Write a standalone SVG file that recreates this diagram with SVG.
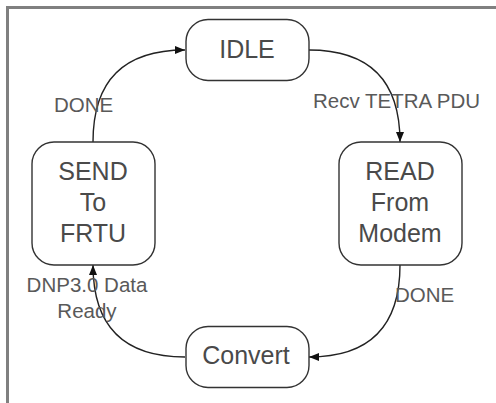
<svg xmlns="http://www.w3.org/2000/svg" width="496" height="403" viewBox="0 0 496 403">
  <style>
    .node rect { fill: #fff; stroke: #333; stroke-width: 1.4; }
    .node text { font-family: "Liberation Sans", Arial, sans-serif; font-size: 25px; fill: #4a4a4a; text-anchor: middle; }
    .edge { fill: none; stroke: #222; stroke-width: 1.4; marker-end: url(#arrow); }
    .label { font-family: "Liberation Sans", Arial, sans-serif; font-size: 20.5px; fill: #595959; }
  </style>
  <defs>
    <marker id="arrow" markerUnits="userSpaceOnUse" markerWidth="11" markerHeight="9" refX="10" refY="4" orient="auto">
      <path d="M0,0 L10,4 L0,8 Z" fill="#111"/>
    </marker>
  </defs>

  <!-- page background and frame -->
  <rect x="0" y="0" width="496" height="403" fill="#fff"/>
  <rect x="7.5" y="7.5" width="600" height="600" fill="none" stroke="#808080" stroke-width="3"/>

  <!-- transitions -->
  <g id="connectors">
    <path class="edge" d="M93,142 Q93,50 185,50"/>
    <path class="edge" d="M309,50 Q400,50 400,142"/>
    <path class="edge" d="M400,265 Q400,357 309,357"/>
    <path class="edge" d="M185,357 Q93,357 93,265"/>
  </g>

  <!-- transition labels -->
  <g id="labels">
    <text class="label" x="54" y="112">DONE</text>
    <text class="label" x="313" y="108">Recv TETRA PDU</text>
    <text class="label" x="395" y="302">DONE</text>
    <text class="label" x="87" y="292" text-anchor="middle">DNP3.0 Data</text>
    <text class="label" x="87" y="318" text-anchor="middle">Ready</text>
  </g>

  <!-- states -->
  <g id="idle" class="node">
    <rect x="186" y="19.5" width="123" height="61" rx="22" ry="22"/>
    <text x="247" y="57.5">IDLE</text>
  </g>
  <g id="read" class="node">
    <rect x="339" y="142" width="123" height="123" rx="22" ry="22"/>
    <text x="400" y="180">READ</text>
    <text x="400" y="211">From</text>
    <text x="400" y="242">Modem</text>
  </g>
  <g id="convert" class="node">
    <rect x="186" y="326.5" width="123" height="61" rx="22" ry="22"/>
    <text x="246" y="364">Convert</text>
  </g>
  <g id="send" class="node">
    <rect x="32" y="142" width="123" height="123" rx="22" ry="22"/>
    <text x="93" y="180">SEND</text>
    <text x="93" y="211">To</text>
    <text x="93" y="242">FRTU</text>
  </g>
</svg>
